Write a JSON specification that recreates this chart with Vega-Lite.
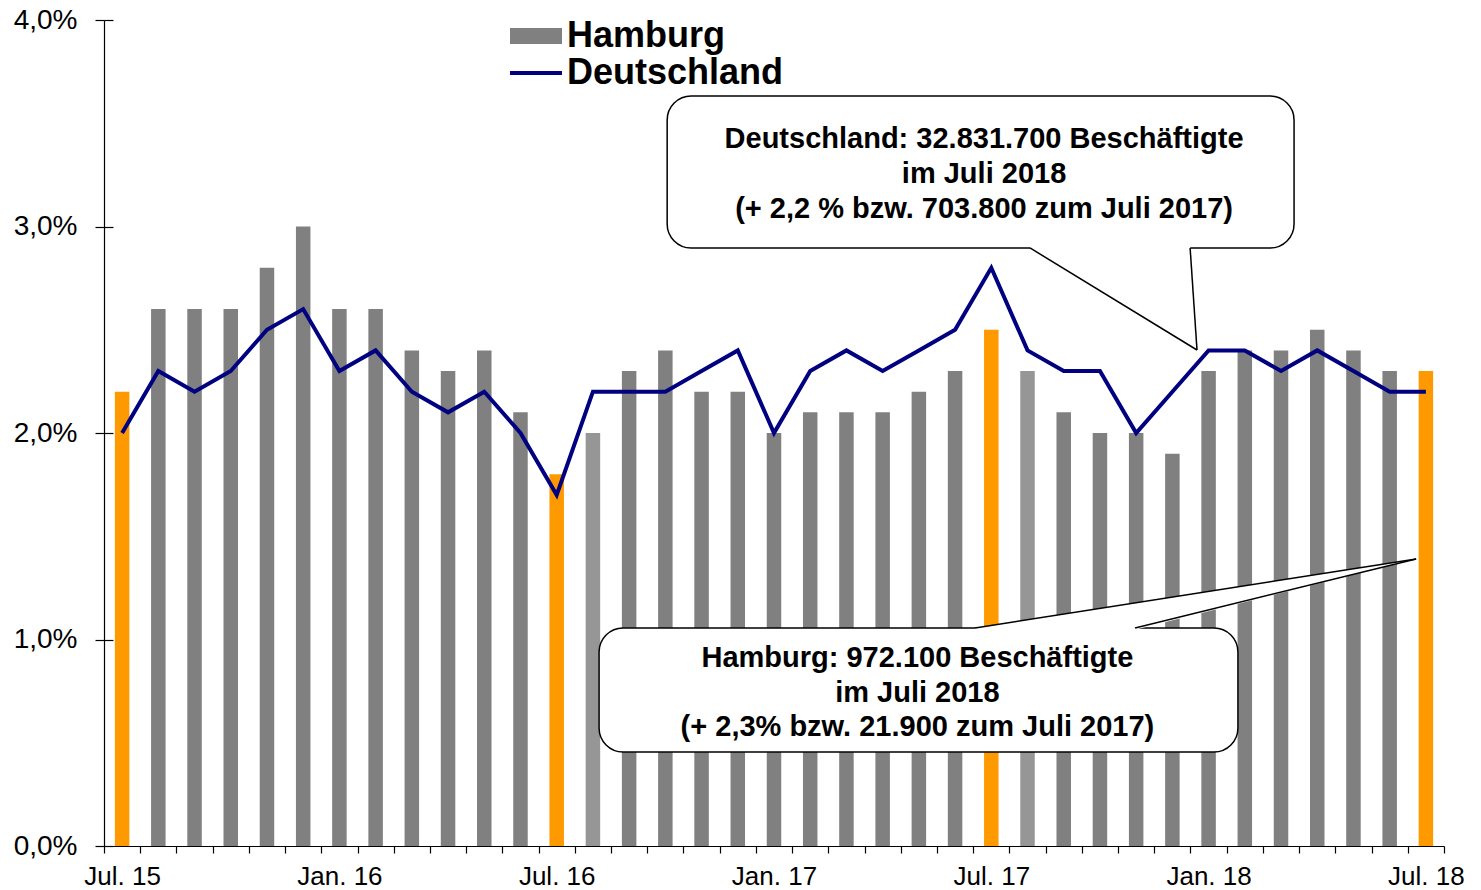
{
  "$schema": "https://vega.github.io/schema/vega-lite/v6.json",
  "width": 1340,
  "height": 826,
  "autosize": {"type": "none"},
  "padding": {"left": 104, "top": 20, "right": 37, "bottom": 44},
  "background": "white",
  "config": {
    "view": {"stroke": null},
    "font": "Liberation Sans",
    "axis": {"domainColor": "black", "tickColor": "black", "labelColor": "black", "labelFont": "Liberation Sans", "labelFontSize": 26, "grid": false, "domainWidth": 1.2, "tickWidth": 1.2, "title": null}
  },
  "datasets": {
    "werte": [
      {"i": 0, "monat": "Jul. 15", "hh": 2.2, "de": 2.0, "typ": "Juli"},
      {"i": 1, "monat": "Aug. 15", "hh": 2.6, "de": 2.3, "typ": "Monat"},
      {"i": 2, "monat": "Sep. 15", "hh": 2.6, "de": 2.2, "typ": "Monat"},
      {"i": 3, "monat": "Okt. 15", "hh": 2.6, "de": 2.3, "typ": "Monat"},
      {"i": 4, "monat": "Nov. 15", "hh": 2.8, "de": 2.5, "typ": "Monat"},
      {"i": 5, "monat": "Dez. 15", "hh": 3.0, "de": 2.6, "typ": "Monat"},
      {"i": 6, "monat": "Jan. 16", "hh": 2.6, "de": 2.3, "typ": "Monat"},
      {"i": 7, "monat": "Feb. 16", "hh": 2.6, "de": 2.4, "typ": "Monat"},
      {"i": 8, "monat": "Mär. 16", "hh": 2.4, "de": 2.2, "typ": "Monat"},
      {"i": 9, "monat": "Apr. 16", "hh": 2.3, "de": 2.1, "typ": "Monat"},
      {"i": 10, "monat": "Mai 16", "hh": 2.4, "de": 2.2, "typ": "Monat"},
      {"i": 11, "monat": "Jun. 16", "hh": 2.1, "de": 2.0, "typ": "Monat"},
      {"i": 12, "monat": "Jul. 16", "hh": 1.8, "de": 1.7, "typ": "Juli"},
      {"i": 13, "monat": "Aug. 16", "hh": 2.0, "de": 2.2, "typ": "hell"},
      {"i": 14, "monat": "Sep. 16", "hh": 2.3, "de": 2.2, "typ": "Monat"},
      {"i": 15, "monat": "Okt. 16", "hh": 2.4, "de": 2.2, "typ": "Monat"},
      {"i": 16, "monat": "Nov. 16", "hh": 2.2, "de": 2.3, "typ": "Monat"},
      {"i": 17, "monat": "Dez. 16", "hh": 2.2, "de": 2.4, "typ": "Monat"},
      {"i": 18, "monat": "Jan. 17", "hh": 2.0, "de": 2.0, "typ": "Monat"},
      {"i": 19, "monat": "Feb. 17", "hh": 2.1, "de": 2.3, "typ": "Monat"},
      {"i": 20, "monat": "Mär. 17", "hh": 2.1, "de": 2.4, "typ": "Monat"},
      {"i": 21, "monat": "Apr. 17", "hh": 2.1, "de": 2.3, "typ": "Monat"},
      {"i": 22, "monat": "Mai 17", "hh": 2.2, "de": 2.4, "typ": "Monat"},
      {"i": 23, "monat": "Jun. 17", "hh": 2.3, "de": 2.5, "typ": "Monat"},
      {"i": 24, "monat": "Jul. 17", "hh": 2.5, "de": 2.8, "typ": "Juli"},
      {"i": 25, "monat": "Aug. 17", "hh": 2.3, "de": 2.4, "typ": "hell"},
      {"i": 26, "monat": "Sep. 17", "hh": 2.1, "de": 2.3, "typ": "Monat"},
      {"i": 27, "monat": "Okt. 17", "hh": 2.0, "de": 2.3, "typ": "Monat"},
      {"i": 28, "monat": "Nov. 17", "hh": 2.0, "de": 2.0, "typ": "Monat"},
      {"i": 29, "monat": "Dez. 17", "hh": 1.9, "de": 2.2, "typ": "Monat"},
      {"i": 30, "monat": "Jan. 18", "hh": 2.3, "de": 2.4, "typ": "Monat"},
      {"i": 31, "monat": "Feb. 18", "hh": 2.4, "de": 2.4, "typ": "Monat"},
      {"i": 32, "monat": "Mär. 18", "hh": 2.4, "de": 2.3, "typ": "Monat"},
      {"i": 33, "monat": "Apr. 18", "hh": 2.5, "de": 2.4, "typ": "Monat"},
      {"i": 34, "monat": "Mai 18", "hh": 2.4, "de": 2.3, "typ": "Monat"},
      {"i": 35, "monat": "Jun. 18", "hh": 2.3, "de": 2.2, "typ": "Monat"},
      {"i": 36, "monat": "Jul. 18", "hh": 2.3, "de": 2.2, "typ": "Juli"}
    ],
    "boxen": [
      {"x1": 15.05, "x2": 32.36, "y1": 2.896, "y2": 3.632},
      {"x1": 13.17, "x2": 30.81, "y1": 0.455, "y2": 1.056}
    ],
    "keilflaeche": [
      {"g": "de", "x": 25.07, "y": 2.905, "y2": 2.896},
      {"g": "de", "x": 29.49, "y": 2.905, "y2": 2.422},
      {"g": "de", "x": 29.68, "y": 2.402, "y2": 2.402},
      {"g": "hh", "x": 23.55, "y": 1.056, "y2": 1.047},
      {"g": "hh", "x": 27.97, "y": 1.177, "y2": 1.047},
      {"g": "hh", "x": 35.73, "y": 1.39, "y2": 1.39}
    ],
    "keillinien": [
      {"s": "de1", "x": 25.07, "y": 2.896},
      {"s": "de1", "x": 29.68, "y": 2.402},
      {"s": "de2", "x": 29.49, "y": 2.896},
      {"s": "de2", "x": 29.68, "y": 2.402},
      {"s": "hh1", "x": 23.55, "y": 1.056},
      {"s": "hh1", "x": 35.73, "y": 1.39},
      {"s": "hh2", "x": 27.97, "y": 1.056},
      {"s": "hh2", "x": 35.73, "y": 1.39}
    ],
    "texte": [
      {"x": 23.8, "y": 3.425, "t": "Deutschland: 32.831.700 Beschäftigte"},
      {"x": 23.8, "y": 3.256, "t": "im Juli 2018"},
      {"x": 23.8, "y": 3.084, "t": "(+ 2,2 % bzw. 703.800 zum Juli 2017)"},
      {"x": 21.96, "y": 0.912, "t": "Hamburg: 972.100 Beschäftigte"},
      {"x": 21.96, "y": 0.743, "t": "im Juli 2018"},
      {"x": 21.96, "y": 0.576, "t": "(+ 2,3% bzw. 21.900 zum Juli 2017)"}
    ]
  },
  "layer": [
    {
      "data": {"name": "werte"},
      "mark": {"type": "bar", "width": 14.5},
      "encoding": {
        "x": {"field": "i", "type": "quantitative", "scale": {"domain": [-0.5, 36.5], "nice": false, "zero": false, "padding": 0},
          "axis": {"orient": "bottom", "values": [-0.5, 0.5, 1.5, 2.5, 3.5, 4.5, 5.5, 6.5, 7.5, 8.5, 9.5, 10.5, 11.5, 12.5, 13.5, 14.5, 15.5, 16.5, 17.5, 18.5, 19.5, 20.5, 21.5, 22.5, 23.5, 24.5, 25.5, 26.5, 27.5, 28.5, 29.5, 30.5, 31.5, 32.5, 33.5, 34.5, 35.5, 36.5], "labels": false, "tickSize": 7, "domain": true}},
        "y": {"field": "hh", "type": "quantitative", "scale": {"domain": [0, 4], "nice": false, "padding": 0},
          "axis": {"orient": "left", "values": [0, 1, 2, 3, 4], "tickSize": 9, "labelPadding": 18, "labelFontSize": 28, "labelExpr": "replace(format(datum.value, '.1f'), '.', ',') + '%'"}},
        "color": {"field": "typ", "type": "nominal", "scale": {"domain": ["Monat", "Juli", "hell"], "range": ["#808080", "#FF9900", "#969696"]}, "legend": null}
      }
    },
    {
      "data": {"name": "werte"},
      "mark": {"type": "line", "strokeWidth": 4, "strokeJoin": "miter"},
      "encoding": {
        "x": {"field": "i", "type": "quantitative",
          "axis": {"orient": "bottom", "values": [0, 6, 12, 18, 24, 30, 36], "ticks": false, "tickSize": 0, "domain": false, "labelPadding": 17,
            "labelExpr": "datum.value == 0 ? 'Jul. 15' : datum.value == 6 ? 'Jan. 16' : datum.value == 12 ? 'Jul. 16' : datum.value == 18 ? 'Jan. 17' : datum.value == 24 ? 'Jul. 17' : datum.value == 30 ? 'Jan. 18' : 'Jul. 18'"}},
        "y": {"field": "de", "type": "quantitative",
          "axis": {"orient": "left", "values": [0, 1, 2, 3, 4], "offset": -9, "tickSize": 9, "labels": false, "domain": false}},
        "stroke": {"datum": "Deutschland", "type": "nominal",
          "scale": {"domain": ["Hamburg", "Deutschland"], "range": ["#808080", "#000080"]},
          "legend": {"orient": "none", "legendX": 406, "legendY": -2, "title": null, "padding": 0,
            "labelFont": "Liberation Sans", "labelFontSize": 36, "labelFontWeight": "bold", "labelColor": "black", "labelLimit": 600,
            "symbolType": "M-2.6,0H2.6", "symbolSize": 400, "symbolOffset": 8, "labelOffset": 13, "rowPadding": 1, "clipHeight": 36,
            "encode": {"symbols": {"update": {"strokeWidth": {"signal": "datum.value === 'Hamburg' ? 16 : 4"}, "strokeCap": {"value": "butt"}}}}}}
      }
    },
    {
      "data": {"name": "boxen"},
      "mark": {"type": "rect", "fill": "white", "stroke": "black", "strokeWidth": 1.5, "cornerRadius": 24},
      "encoding": {
        "x": {"field": "x1", "type": "quantitative", "axis": null},
        "x2": {"field": "x2"},
        "y": {"field": "y1", "type": "quantitative", "axis": null},
        "y2": {"field": "y2"}
      }
    },
    {
      "data": {"name": "keilflaeche"},
      "mark": {"type": "area", "fill": "white", "opacity": 1},
      "encoding": {
        "x": {"field": "x", "type": "quantitative", "axis": null},
        "y": {"field": "y", "type": "quantitative", "axis": null},
        "y2": {"field": "y2"},
        "detail": {"field": "g"}
      }
    },
    {
      "data": {"name": "keillinien"},
      "mark": {"type": "line", "stroke": "black", "strokeWidth": 1.5},
      "encoding": {
        "x": {"field": "x", "type": "quantitative", "axis": null},
        "y": {"field": "y", "type": "quantitative", "axis": null},
        "detail": {"field": "s"}
      }
    },
    {
      "data": {"name": "texte"},
      "mark": {"type": "text", "font": "Liberation Sans", "fontSize": 29, "fontWeight": "bold", "color": "black", "align": "center", "baseline": "middle"},
      "encoding": {
        "x": {"field": "x", "type": "quantitative", "axis": null},
        "y": {"field": "y", "type": "quantitative", "axis": null},
        "text": {"field": "t"}
      }
    }
  ],
  "resolve": {"axis": {"x": "independent", "y": "independent"}}
}
